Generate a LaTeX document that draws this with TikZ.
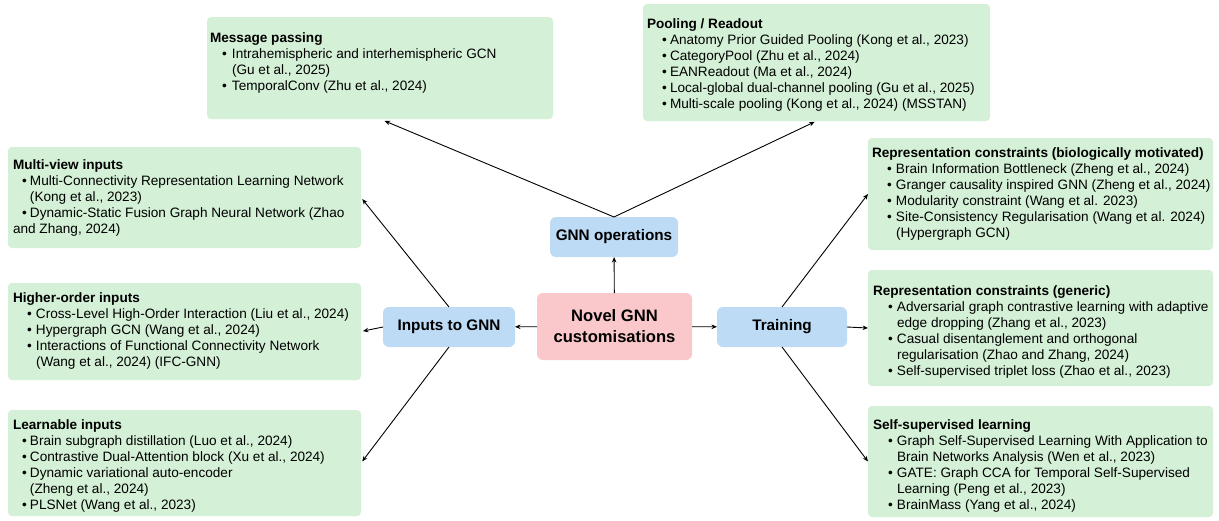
\documentclass[tikz,border=0pt]{standalone}
\usepackage{fontspec}
\setmainfont{Liberation Sans}
\usetikzlibrary{arrows.meta}

\definecolor{boxgreen}{RGB}{212,240,214}
\definecolor{boxblue}{RGB}{189,219,245}
\definecolor{boxpink}{RGB}{250,200,202}

% indentation of bullets and of item text, relative to the title
\newlength{\bulind}
\newlength{\txtind}
\newcommand{\btitle}[1]{\textbf{#1}\par}
\newcommand{\bline}[1]{\hspace*{\bulind}\makebox[\dimexpr\txtind-\bulind\relax][l]{•}#1\par}
\newcommand{\contline}[1]{\hspace*{\txtind}#1\par}
\newcommand{\flatline}[1]{#1\par}
\newcommand{\boxtext}[3]{\setlength{\bulind}{#1}\setlength{\txtind}{#2}%
  \parbox[t]{360pt}{\fontsize{13.6}{16}\selectfont #3}}

\tikzset{
  gbox/.style={fill=boxgreen, draw=none, rounded corners=4pt, anchor=north west, inner sep=0pt, outer sep=0pt},
  bbox/.style={fill=boxblue, draw=none, rounded corners=6pt, inner sep=0pt, outer sep=0pt,
    font=\fontsize{15.3}{18}\selectfont\bfseries},
  pbox/.style={fill=boxpink, draw=none, rounded corners=6pt, inner sep=0pt, outer sep=0pt,
    align=center, font=\fontsize{16.6}{21}\selectfont\bfseries},
  txt/.style={anchor=base west, inner sep=0pt, outer sep=0pt},
  arr/.style={draw=black, line width=0.9pt, -{Stealth[length=5.5pt,width=4.5pt]}},
}

\begin{document}
\begin{tikzpicture}[x=1pt, y=-1pt]
\useasboundingbox (0,0) rectangle (1219,520);
\fill[white] (0,0) rectangle (1219,520);

% category boxes
\node[gbox, minimum width=346pt, minimum height=102pt] (mp) at (207,17) {};
\node[gbox, minimum width=347pt, minimum height=117pt] (pool) at (643,4) {};
\node[gbox, minimum width=353pt, minimum height=101pt] (mview) at (8,147) {};
\node[gbox, minimum width=353pt, minimum height=97pt] (hord) at (8,283) {};
\node[gbox, minimum width=353pt, minimum height=106pt] (learn) at (8,410) {};
\node[gbox, minimum width=345pt, minimum height=112pt] (rbio) at (868,138) {};
\node[gbox, minimum width=345pt, minimum height=116pt] (rgen) at (868,270) {};
\node[gbox, minimum width=345pt, minimum height=111pt] (ssl) at (868,406) {};

% category texts
\node[txt] (mpt) at (210,42) {\boxtext{12pt}{22pt}{%
  \btitle{Message passing}
  \bline{Intrahemispheric and interhemispheric GCN}
  \contline{(Gu et al., 2025)}
  \bline{TemporalConv (Zhu et al., 2024)}}};

\node[txt] (poolt) at (647,28) {\boxtext{15pt}{23pt}{%
  \btitle{Pooling / Readout}
  \bline{Anatomy Prior Guided Pooling (Kong et al., 2023)}
  \bline{CategoryPool (Zhu et al., 2024)}
  \bline{EANReadout (Ma et al., 2024)}
  \bline{Local-global dual-channel pooling (Gu et al., 2025)}
  \bline{Multi-scale pooling (Kong et al., 2024) (MSSTAN)}}};

\node[txt] (mviewt) at (13,169) {\boxtext{9pt}{17pt}{%
  \btitle{Multi-view inputs}
  \bline{Multi-Connectivity Representation Learning Network}
  \contline{(Kong et al., 2023)}
  \bline{Dynamic-Static Fusion Graph Neural Network (Zhao}
  \flatline{and Zhang, 2024)}}};

\node[txt] (hordt) at (13,302) {\boxtext{14pt}{23pt}{%
  \btitle{Higher-order inputs}
  \bline{Cross-Level High-Order Interaction (Liu et al., 2024)}
  \bline{Hypergraph GCN (Wang et al., 2024)}
  \bline{Interactions of Functional Connectivity Network}
  \contline{(Wang et al., 2024) (IFC-GNN)}}};

\node[txt] (learnt) at (13,429) {\boxtext{9pt}{17pt}{%
  \btitle{Learnable inputs}
  \bline{Brain subgraph distillation (Luo et al., 2024)}
  \bline{Contrastive Dual-Attention block (Xu et al., 2024)}
  \bline{Dynamic variational auto-encoder}
  \contline{(Zheng et al., 2024)}
  \bline{PLSNet (Wang et al., 2023)}}};

\node[txt] (rbiot) at (872,157) {\boxtext{15pt}{24pt}{%
  \btitle{Representation constraints (biologically motivated)}
  \bline{Brain Information Bottleneck (Zheng et al., 2024)}
  \bline{Granger causality inspired GNN (Zheng et al., 2024)}
  \bline{Modularity constraint (Wang et al. 2023)}
  \bline{Site-Consistency Regularisation (Wang et al. 2024)}
  \contline{(Hypergraph GCN)}}};

\node[txt] (rgent) at (873,295) {\boxtext{15pt}{24pt}{%
  \btitle{Representation constraints (generic)}
  \bline{Adversarial graph contrastive learning with adaptive}
  \contline{edge dropping (Zhang et al., 2023)}
  \bline{Casual disentanglement and orthogonal}
  \contline{regularisation (Zhao and Zhang, 2024)}
  \bline{Self-supervised triplet loss (Zhao et al., 2023)}}};

\node[txt] (sslt) at (873,429) {\boxtext{15pt}{24pt}{%
  \btitle{Self-supervised learning}
  \bline{Graph Self-Supervised Learning With Application to}
  \contline{Brain Networks Analysis (Wen et al., 2023)}
  \bline{GATE: Graph CCA for Temporal Self-Supervised}
  \contline{Learning (Peng et al., 2023)}
  \bline{BrainMass (Yang et al., 2024)}}};

% central hub and its three branches
\node[pbox, minimum width=155pt, minimum height=67pt] (novel) at (614.5,326.5) {Novel GNN\\customisations};
\node[bbox, minimum width=128pt, minimum height=40pt] (gnnops) at (614,237) {GNN operations};
\node[bbox, minimum width=132pt, minimum height=40pt] (inputs) at (449,327) {Inputs to GNN};
\node[bbox, minimum width=130pt, minimum height=40pt] (train) at (782,327) {Training};

% connectors
\draw[arr] (novel) -- (gnnops);
\draw[arr] (novel) -- (inputs);
\draw[arr] (novel) -- (train);
\draw[arr, shorten >=5pt] (gnnops.north) -- (mp.south);
\draw[arr, shorten >=2pt] (gnnops.north) -- (pool.south);
\draw[arr, shorten >=2pt] (inputs.north) -- (mview.east);
\draw[arr, shorten >=2pt] (inputs.west) -- (hord.east);
\draw[arr, shorten >=2pt] (inputs.south) -- (learn.east);
\draw[arr] (train.north) -- (rbio.west);
\draw[arr] (train.east) -- (rgen.west);
\draw[arr] (train.south) -- (ssl.west);
\end{tikzpicture}
\end{document}
